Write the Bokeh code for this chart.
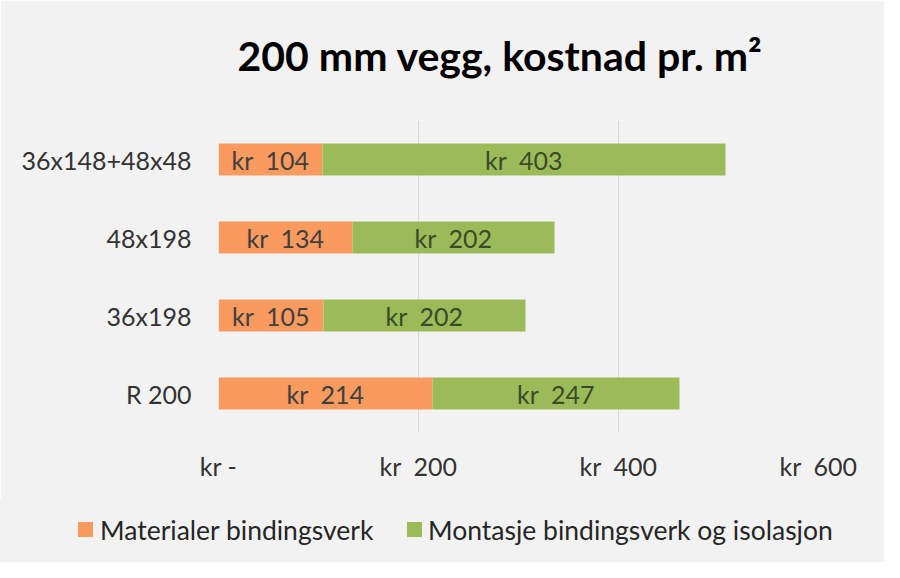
from bokeh.plotting import figure
from bokeh.layouts import column
from bokeh.models import ColumnDataSource, FactorRange, Range1d, FixedTicker, Title, Div
from bokeh.embed import file_html
from bokeh.resources import INLINE
from bokeh.core.properties import value

categories = ["R 200", "36x198", "48x198", "36x148+48x48"]
materialer = [214, 105, 134, 104]
montasje = [247, 202, 202, 403]
series_names = ["Materialer bindingsverk", "Montasje bindingsverk og isolasjon"]
x_ticks = [0, 200, 400, 600]
x_tick_labels = ["kr -", "kr \u00a0200", "kr \u00a0400", "kr \u00a0600"]
title_text = "200 mm vegg, kostnad pr. m²"

FONT = "Lato"
ORANGE = "#F99A5E"
GREEN = "#9BBB59"
BG = "#f2f2f2"
W = 884

ends = [a + b for a, b in zip(materialer, montasje)]
src = ColumnDataSource(dict(
    cat=categories,
    m0=[0] * len(categories),
    m1=materialer,
    g1=ends,
    mid_m=[a / 2 for a in materialer],
    mid_g=[a + b / 2 for a, b in zip(materialer, montasje)],
    lab_m=[f"kr \u00a0{v}" for v in materialer],
    lab_g=[f"kr \u00a0{v}" for v in montasje],
))

p = figure(width=W, height=500, y_range=FactorRange(*categories, range_padding=0),
           x_range=Range1d(0, 600), output_backend="svg", toolbar_location=None,
           min_border_left=218, min_border_right=66, min_border_top=120, min_border_bottom=68)

p.background_fill_color = BG
p.border_fill_color = BG
p.outline_line_color = None

p.hbar(y="cat", left="m0", right="m1", height=0.41, color=ORANGE, line_color=None, source=src)
p.hbar(y="cat", left="m1", right="g1", height=0.41, color=GREEN, line_color=None, source=src)

p.text(x="mid_m", y="cat", text="lab_m", source=src, text_align="center", text_baseline="middle",
       text_font=value(FONT), text_font_size="25px", text_color="#404040")
p.text(x="mid_g", y="cat", text="lab_g", source=src, text_align="center", text_baseline="middle",
       text_font=value(FONT), text_font_size="25px", text_color="#3c4a2a")

p.xaxis.ticker = FixedTicker(ticks=x_ticks)
p.xaxis.major_label_overrides = {t: l for t, l in zip(x_ticks, x_tick_labels)}
for ax in (p.xaxis[0], p.yaxis[0]):
    ax.axis_line_color = None
    ax.major_tick_line_color = None
    ax.minor_tick_line_color = None
    ax.major_label_text_font = FONT
    ax.major_label_text_font_size = "25px"
    ax.major_label_text_color = "#333333"
p.xaxis.major_label_standoff = 12
p.yaxis.major_label_standoff = 21

p.xgrid.grid_line_color = "#d9d9d9"
p.ygrid.grid_line_color = None

# thin spacer title next to the frame, then the real title further out
p.add_layout(Title(text=" ", standoff=38, text_font_size="1px", text_color=BG), "above")
p.add_layout(Title(text=title_text, align="left", offset=19, standoff=0, vertical_align="bottom",
                   text_font=FONT, text_font_style="bold", text_font_size="41px", text_color="#000000"),
             "above")

# legend strip (HTML)
legend_pos = [(78, 100), (407, 428)]
colors = [ORANGE, GREEN]
items = ""
for (sq_x, tx_x), c, name in zip(legend_pos, colors, series_names):
    items += (f'<div style="position:absolute;left:{sq_x}px;top:22px;width:15px;height:15px;background:{c}"></div>'
              f'<div style="position:absolute;left:{tx_x}px;top:14px;line-height:32px;white-space:nowrap">{name}</div>')
legend_html = (f'<div style="position:relative;width:{W}px;height:62px;font-family:Lato;font-size:26.5px;'
               f'color:#262626;background:{BG}">{items}</div>')
lg = Div(text=legend_html, width=W, height=62, styles={"background-color": BG, "margin": "0", "padding": "0"})

open("out.html", "w").write(file_html(column(p, lg, spacing=0), INLINE))
